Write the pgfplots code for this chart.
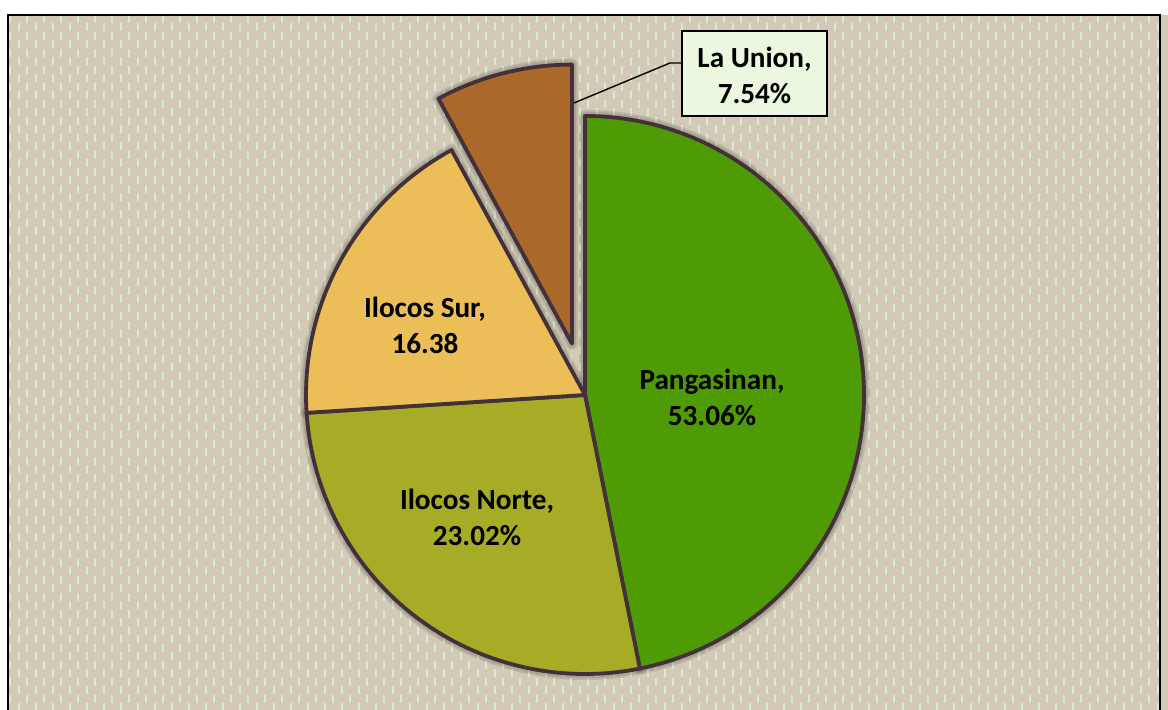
\documentclass[border=0pt]{standalone}
\usepackage{pgfplots}
\pgfplotsset{compat=1.18}
\usepackage{pgfplotstable}
\usepackage{fontspec}
\setmainfont{Carlito}
\definecolor{cPang}{RGB}{78,155,6}
\definecolor{cNorte}{RGB}{167,172,38}
\definecolor{cSur}{RGB}{236,190,88}
\definecolor{cLU}{RGB}{170,104,42}
\definecolor{pieedge}{RGB}{67,48,56}
\definecolor{bgbeige}{RGB}{210,202,182}
\definecolor{dashcol}{RGB}{216,234,212}
\definecolor{boxfill}{RGB}{235,247,222}

% drawn share of each slice (per cent of the full circle), explode in pt
\pgfplotstableread{
region      pct    explode  col
Pangasinan  46.85  0        cPang
IlocosNorte 27.13  0        cNorte
IlocosSur   18.08  0        cSur
LaUnion     7.94   26.5     cLU
}\piedata

\begin{document}
\begin{tikzpicture}
\useasboundingbox (0,0) rectangle (584pt,355pt);
% background (image pixel coordinates, y downwards)
\begin{scope}[x=0.5pt,y=-0.5pt,shift={(0,355pt)}]
  \fill[bgbeige] (8,15) rectangle (1168,730);
  \foreach \i in {0,...,135}{
    \pgfmathsetmacro\xx{10+8.5*\i}
    \pgfmathsetmacro\ph{mod(\i,2)*4.25}
    \draw[dashcol, line width=1pt, dash pattern=on 4pt off 4.5pt, dash phase=\ph pt] (\xx,15) -- (\xx,712);
  }
  \draw[black, line width=1.25pt] (8,15) rectangle (1160,740);
\end{scope}
\begin{axis}[
  at={(0,0)}, anchor=south west,
  scale only axis, width=584pt, height=355pt,
  xmin=0, xmax=1168, ymin=0, ymax=710,
  hide axis, clip=false]
  % shadows
  \def\startang{90}
  \pgfplotsforeachungrouped \i in {0,...,3}{%
    \pgfplotstablegetelem{\i}{pct}\of\piedata \let\pct\pgfplotsretval
    \pgfplotstablegetelem{\i}{explode}\of\piedata \let\expl\pgfplotsretval
    \pgfmathsetmacro\endang{\startang-3.6*\pct}%
    \pgfmathsetmacro\midang{(\startang+\endang)/2}%
    \edef\temp{\noexpand\draw[black, opacity=0.10, line width=6pt, line join=round]
      ([shift={(\midang:\expl pt)}]axis cs:585,315) -- ++(\startang:139.5pt)
      arc[start angle=\startang, end angle=\endang, radius=139.5pt] -- cycle;
      \noexpand\draw[black, opacity=0.10, line width=4pt, line join=round]
      ([shift={(\midang:\expl pt)}]axis cs:585,315) -- ++(\startang:139.5pt)
      arc[start angle=\startang, end angle=\endang, radius=139.5pt] -- cycle;}%
    \temp
    \global\let\startang\endang
  }
  % slices
  \def\startang{90}
  \pgfplotsforeachungrouped \i in {0,...,3}{%
    \pgfplotstablegetelem{\i}{pct}\of\piedata \let\pct\pgfplotsretval
    \pgfplotstablegetelem{\i}{explode}\of\piedata \let\expl\pgfplotsretval
    \pgfplotstablegetelem{\i}{col}\of\piedata \let\col\pgfplotsretval
    \pgfmathsetmacro\endang{\startang-3.6*\pct}%
    \pgfmathsetmacro\midang{(\startang+\endang)/2}%
    \edef\temp{\noexpand\filldraw[fill=\col, draw=pieedge, line width=1.9pt, line join=round]
      ([shift={(\midang:\expl pt)}]axis cs:585,315) -- ++(\startang:139.5pt)
      arc[start angle=\startang, end angle=\endang, radius=139.5pt] -- cycle;}%
    \temp
    \global\let\startang\endang
  }
  % labels
  \tikzset{lbl/.style={font=\bfseries\fontsize{14.6}{18}\selectfont, align=center, inner sep=0pt}}
  \node[lbl] at (axis cs:712,313) {Pangasinan,\\53.06\%};
  \node[lbl] at (axis cs:477,192.5) {Ilocos Norte,\\23.02\%};
  \node[lbl] at (axis cs:425,385) {Ilocos Sur,\\16.38};
  \draw[black, line width=0.7pt] (axis cs:682,647) -- (axis cs:670,647) -- (axis cs:574,607);
  \filldraw[fill=boxfill, draw=black, line width=0.9pt] (axis cs:682,679) rectangle (axis cs:827,594);
  \node[lbl] at (axis cs:754.5,634.5) {La Union,\\7.54\%};
\end{axis}
\end{tikzpicture}
\end{document}
